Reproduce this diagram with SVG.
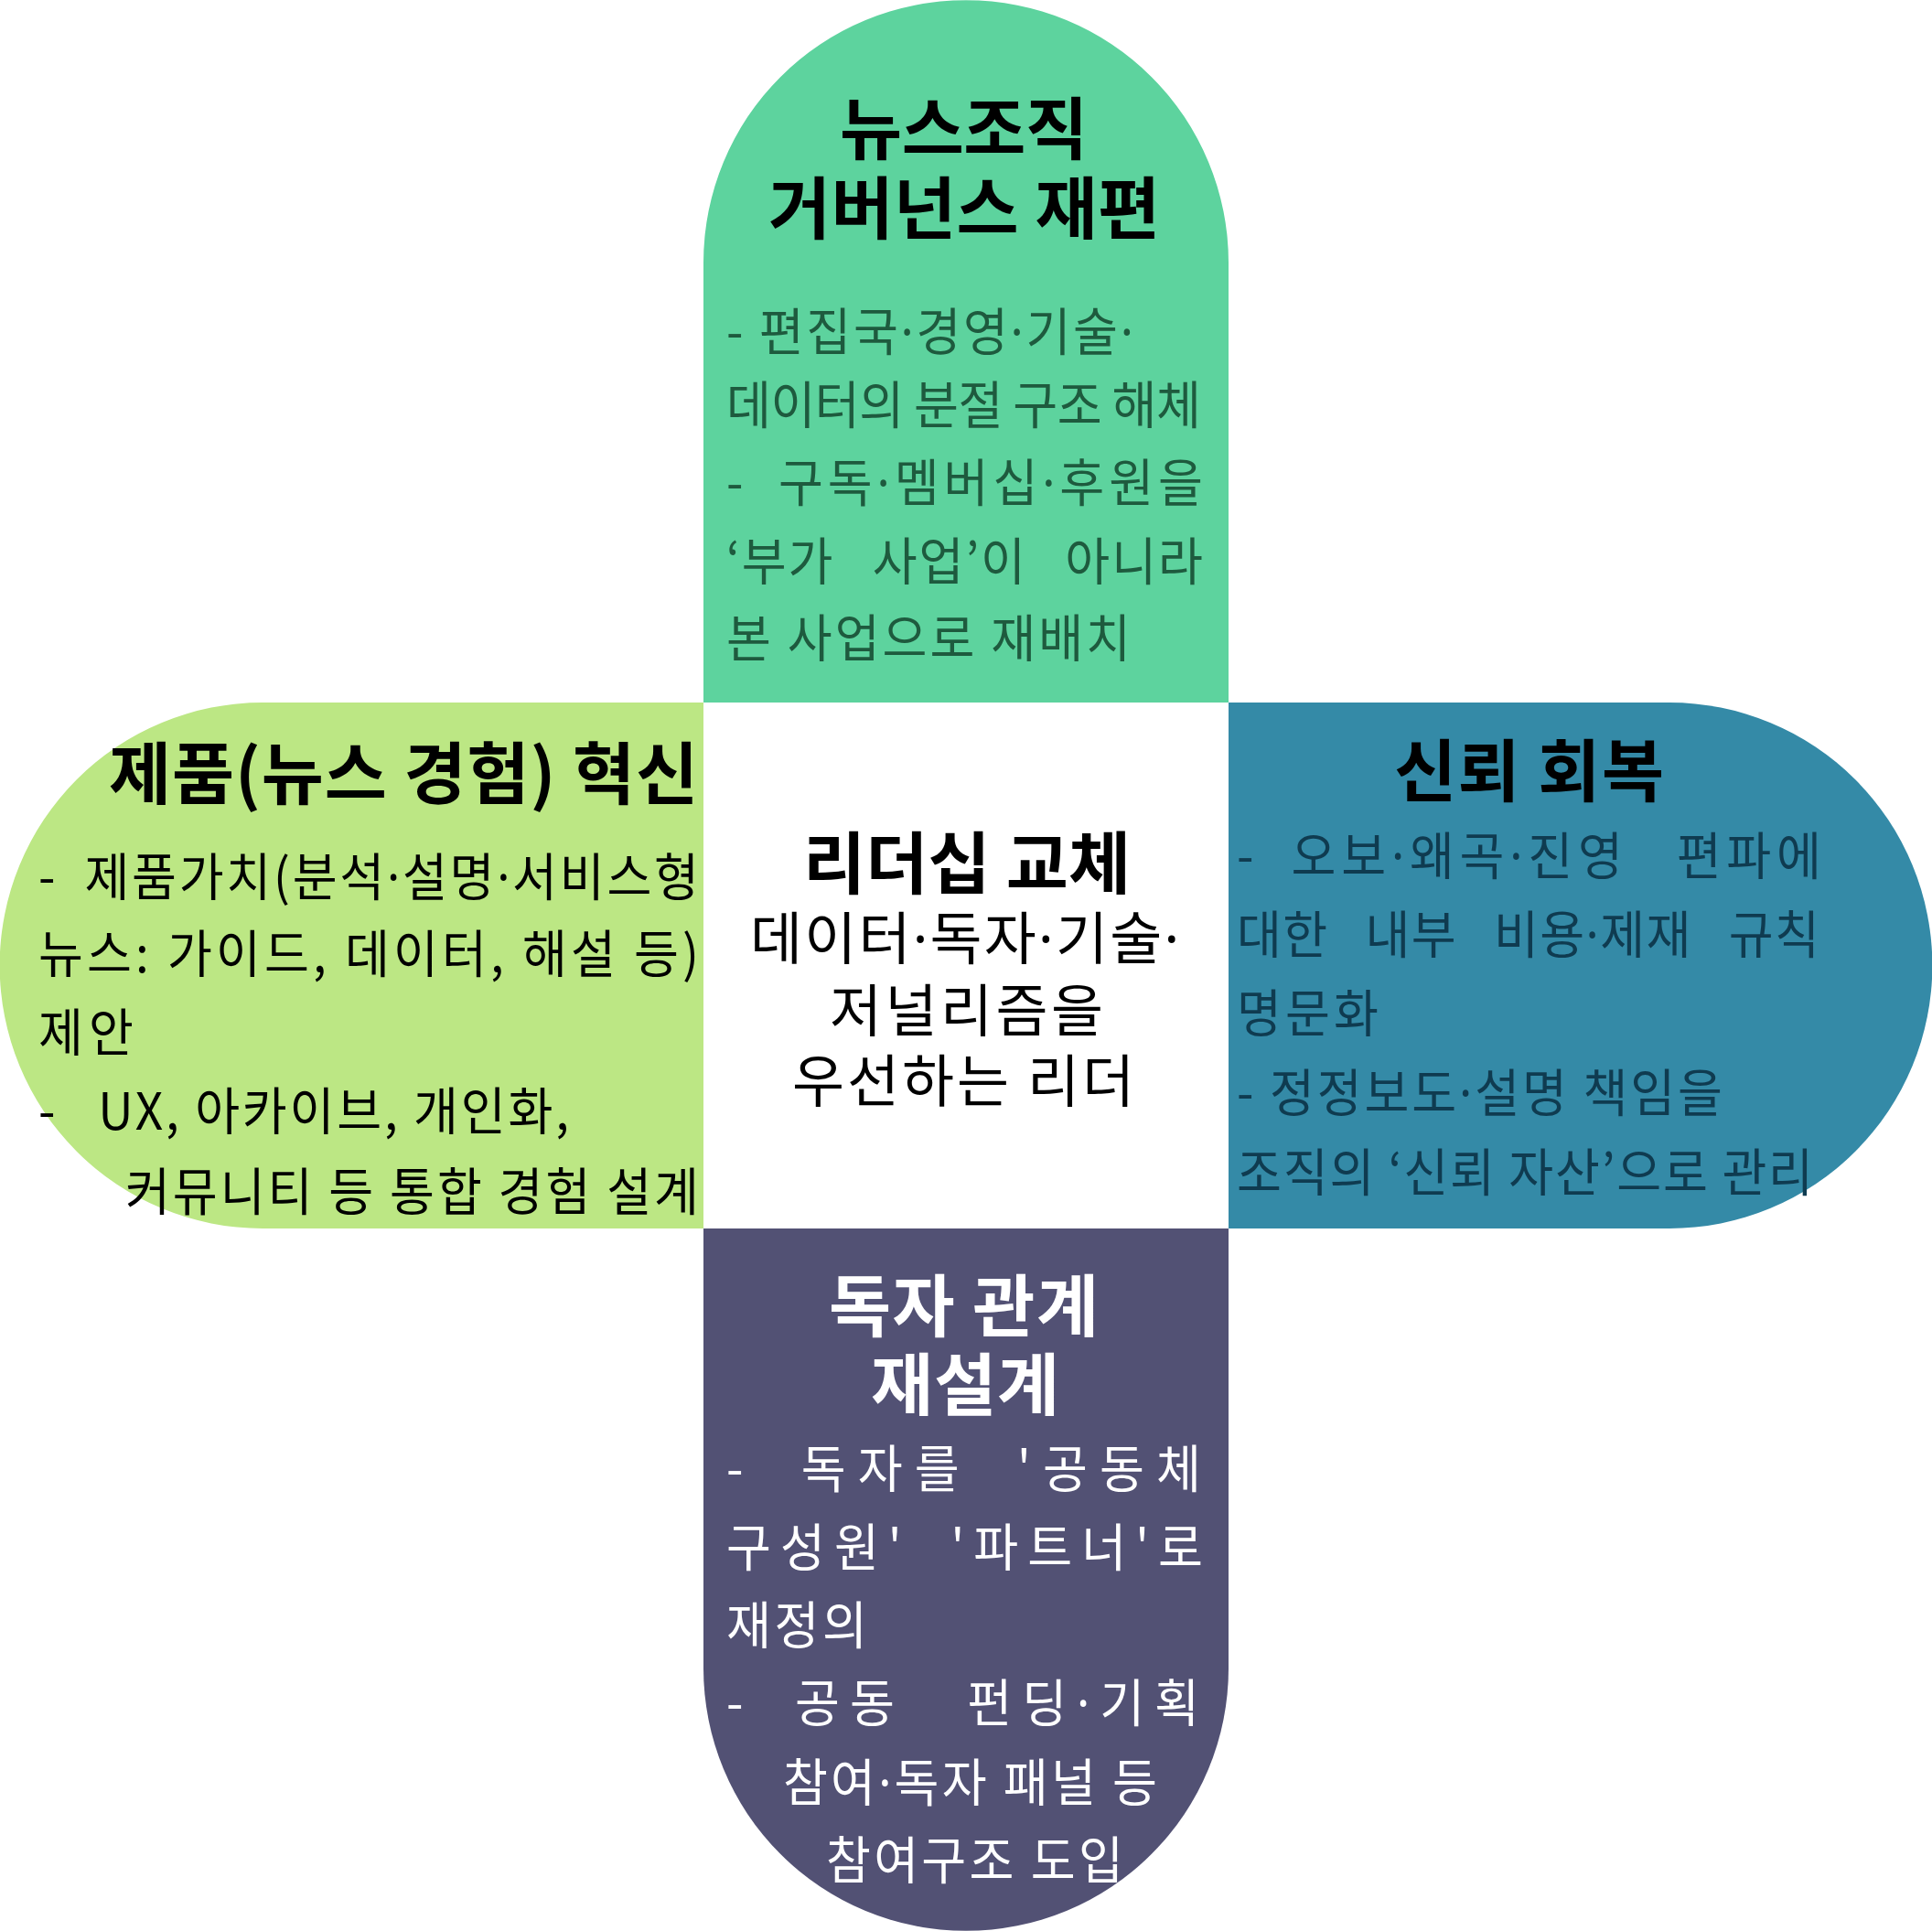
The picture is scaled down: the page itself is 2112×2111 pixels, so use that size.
<svg xmlns="http://www.w3.org/2000/svg" width="2112" height="2111" viewBox="0 0 2112 2111">
<style>
text { font-family: "Noto Sans CJK KR", "Noto Sans", sans-serif; white-space: pre; }
.t { font-size: 74px; font-weight: 700; }
.b { font-size: 56px; font-weight: 400; }
.cb { font-size: 62px; font-weight: 400; }
.d { font-family: "Noto Sans", "Liberation Sans", sans-serif; }
.k { fill: #000000; }
.g { fill: #1E5A3E; }
.tl { fill: #0F3B50; }
.w { fill: #FFFFFF; }
</style>
<rect width="2112" height="2111" fill="#FFFFFF"/>
<g id="node-top">
<path d="M769,768 L769,287 A287,287 0 0 1 1343,287 L1343,768 Z" fill="#5DD39E"/>
<text class="t k" transform="translate(918,168)" textLength="271" lengthAdjust="spacing">뉴스조직</text>
<text class="t k" transform="translate(840,255)" textLength="428" lengthAdjust="spacing">거버넌스 재편</text>
<text class="b g" transform="translate(794,383) scale(0.95,1)" textLength="468.4" lengthAdjust="spacing">- 편집국<tspan class="d">·</tspan>경영<tspan class="d">·</tspan>기술<tspan class="d">·</tspan></text>
<text class="b g" transform="translate(794,463) scale(0.95,1)" textLength="546.3" lengthAdjust="spacing">데이터의 분절 구조 해체</text>
<text class="b g" transform="translate(794,548) scale(0.95,1)" textLength="548.4" lengthAdjust="spacing">-  구독<tspan class="d">·</tspan>멤버십<tspan class="d">·</tspan>후원을</text>
<text class="b g" transform="translate(794,634) scale(0.95,1)" textLength="548.4" lengthAdjust="spacing">‘부가   사업’이   아니라</text>
<text class="b g" transform="translate(794,718) scale(0.95,1)" textLength="465.3" lengthAdjust="spacing">본 사업으로 재배치</text>
</g>
<g id="node-left">
<path d="M769,768 L287,768 A287.5,287.5 0 0 0 287,1343 L769,1343 Z" fill="#BCE784"/>
<text class="t k" transform="translate(119,873)" textLength="644" lengthAdjust="spacing">제품(뉴스 경험) 혁신</text>
<text class="b k" transform="translate(42,979) scale(0.95,1)" textLength="760" lengthAdjust="spacing">-  제품가치(분석<tspan class="d">·</tspan>설명<tspan class="d">·</tspan>서비스형</text>
<text class="b k" transform="translate(42,1063) scale(0.95,1)" textLength="760" lengthAdjust="spacing">뉴스: 가이드, 데이터, 해설 등)</text>
<text class="b k" transform="translate(42,1149) scale(0.95,1)" textLength="109.5" lengthAdjust="spacing">제안</text>
<text class="b k" transform="translate(42,1235) scale(0.95,1)" textLength="610.5" lengthAdjust="spacing">-   UX, 아카이브, 개인화,</text>
<text class="b k" transform="translate(137,1323) scale(0.95,1)" textLength="660" lengthAdjust="spacing">커뮤니티 등 통합 경험 설계</text>
</g>
<g id="node-right">
<path d="M1343,768 L1825,768 A287.5,287.5 0 0 1 1825,1343 L1343,1343 Z" fill="#348AA7"/>
<text class="t k" transform="translate(1524,870)" textLength="295" lengthAdjust="spacing">신뢰 회복</text>
<text class="b tl" transform="translate(1352,956) scale(0.95,1)" textLength="672.6" lengthAdjust="spacing">-  오보<tspan class="d">·</tspan>왜곡<tspan class="d">·</tspan>진영   편파에</text>
<text class="b tl" transform="translate(1352,1042) scale(0.95,1)" textLength="670.5" lengthAdjust="spacing">대한   내부   비용<tspan class="d">·</tspan>제재   규칙</text>
<text class="b tl" transform="translate(1352,1128) scale(0.95,1)" textLength="163.2" lengthAdjust="spacing">명문화</text>
<text class="b tl" transform="translate(1352,1215) scale(0.95,1)" textLength="558.9" lengthAdjust="spacing">- 정정보도<tspan class="d">·</tspan>설명 책임을</text>
<text class="b tl" transform="translate(1352,1302) scale(0.95,1)" textLength="663.2" lengthAdjust="spacing">조직의 ‘신뢰 자산’으로 관리</text>
</g>
<g id="node-bottom">
<path d="M769,1343 L769,1824 A287,287 0 0 0 1343,1824 L1343,1343 Z" fill="#525174"/>
<text class="t w" transform="translate(906,1455)" textLength="295" lengthAdjust="spacing">독자 관계</text>
<text class="t w" transform="translate(952,1541)" textLength="206" lengthAdjust="spacing">재설계</text>
<text class="b w" transform="translate(794,1626) scale(0.95,1)" textLength="546.3" lengthAdjust="spacing">-  독자를  '공동체</text>
<text class="b w" transform="translate(794,1712) scale(0.95,1)" textLength="548.4" lengthAdjust="spacing">구성원'  '파트너'로</text>
<text class="b w" transform="translate(794,1797) scale(0.95,1)" textLength="162.1" lengthAdjust="spacing">재정의</text>
<text class="b w" transform="translate(794,1882) scale(0.95,1)" textLength="544.2" lengthAdjust="spacing">-  공동   펀딩<tspan class="d">·</tspan>기획</text>
<text class="b w" transform="translate(856,1969) scale(0.95,1)" textLength="430.5" lengthAdjust="spacing">참여<tspan class="d">·</tspan>독자 패널 등</text>
<text class="b w" transform="translate(903,2054) scale(0.95,1)" textLength="342.1" lengthAdjust="spacing">참여구조 도입</text>
</g>
<g id="node-center">
<text class="t k" transform="translate(878,971)" textLength="358" lengthAdjust="spacing">리더십 교체</text>
<text class="cb k" transform="translate(820,1049)" textLength="469" lengthAdjust="spacing">데이터<tspan class="d">·</tspan>독자<tspan class="d">·</tspan>기술<tspan class="d">·</tspan></text>
<text class="cb k" transform="translate(907,1128)" textLength="299" lengthAdjust="spacing">저널리즘을</text>
<text class="cb k" transform="translate(866,1205)" textLength="374" lengthAdjust="spacing">우선하는 리더</text>
</g>
<g id="connectors"></g>
</svg>
